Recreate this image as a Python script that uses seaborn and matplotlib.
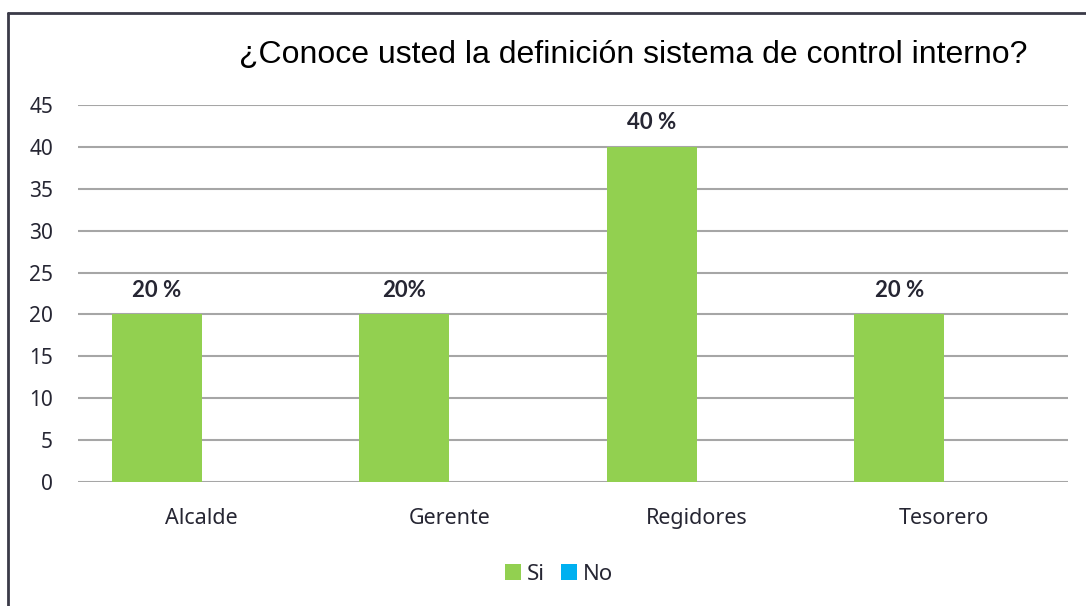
import matplotlib
matplotlib.use("Agg")
import matplotlib.pyplot as plt
from matplotlib import font_manager
import seaborn as sns
import pandas as pd
from matplotlib.lines import Line2D
from matplotlib.patches import Patch

categories = ["Alcalde", "Gerente", "Regidores", "Tesorero"]
si_values = [20, 20, 40, 20]
no_values = [0, 0, 0, 0]
si_labels = ["20 %", "20%", "40 %", "20 %"]
series = ["Si", "No"]
title = "¿Conoce usted la definición sistema de control interno?"

df = pd.DataFrame({
    "cat": categories * 2,
    "val": si_values + no_values,
    "serie": ["Si"] * len(categories) + ["No"] * len(categories),
})

sns.set_theme(style="white")
plt.rcParams["font.family"] = ["Noto Sans", "DejaVu Sans"]
text_color = "#262633"

installed = {f.name for f in font_manager.fontManager.ttflist}
narrow = "Liberation Sans Narrow" in installed
title_family = ["Liberation Sans Narrow", "DejaVu Sans"] if narrow else ["Liberation Sans", "DejaVu Sans"]
title_size = 25 if narrow else 23

fig = plt.figure(figsize=(10.86, 6.06), dpi=100)
ax = fig.add_axes([78 / 1086, 1 - 482 / 606, (1068 - 78) / 1086, (482 - 105) / 606])

colors = {"Si": "#92D050", "No": "#00B0F0"}
sns.barplot(data=df, x="cat", y="val", hue="serie", hue_order=series,
            palette=colors, width=0.727, linewidth=0, ax=ax, legend=False,
            order=categories, errorbar=None, saturation=1)

ax.set_ylim(0, 45)
ax.set_xlim(-0.5, 3.5)
ax.set_yticks(range(0, 46, 5))
ax.yaxis.grid(True, color="#a6a6a6", linewidth=1.5)
ax.set_axisbelow(True)
for s in ax.spines.values():
    s.set_visible(False)
ax.set_xlabel("")
ax.set_ylabel("")
ax.tick_params(axis="y", length=0, pad=18, labelsize=15, labelcolor=text_color)
ax.tick_params(axis="x", length=0, pad=19, labelsize=15.5, labelcolor=text_color)

si_container = ax.containers[0]
ax.bar_label(si_container, labels=si_labels, padding=10, fontsize=16,
             fontweight="bold", family=["Lato", "DejaVu Sans"], color=text_color)

fig.text(633 / 1086, 1 - 55 / 606, title, ha="center", va="center",
         fontsize=title_size, family=title_family, color="#000000")

handles = [Patch(facecolor=colors[s], edgecolor="none") for s in series]
fig.legend(handles, series, loc="center", bbox_to_anchor=(559 / 1086, 1 - 574 / 606),
           ncol=2, frameon=False, fontsize=16, handlelength=0.7, handleheight=0.7,
           handletextpad=0.27, columnspacing=0.73, labelcolor=text_color)

fig.add_artist(Line2D([8 / 1086, 8 / 1086], [0, 1 - 13 / 606], transform=fig.transFigure,
                      color="#3a3a48", linewidth=2))
fig.add_artist(Line2D([8 / 1086, 1], [1 - 13 / 606, 1 - 13 / 606], transform=fig.transFigure,
                      color="#3a3a48", linewidth=2))

fig.savefig("out.png", dpi=100)
